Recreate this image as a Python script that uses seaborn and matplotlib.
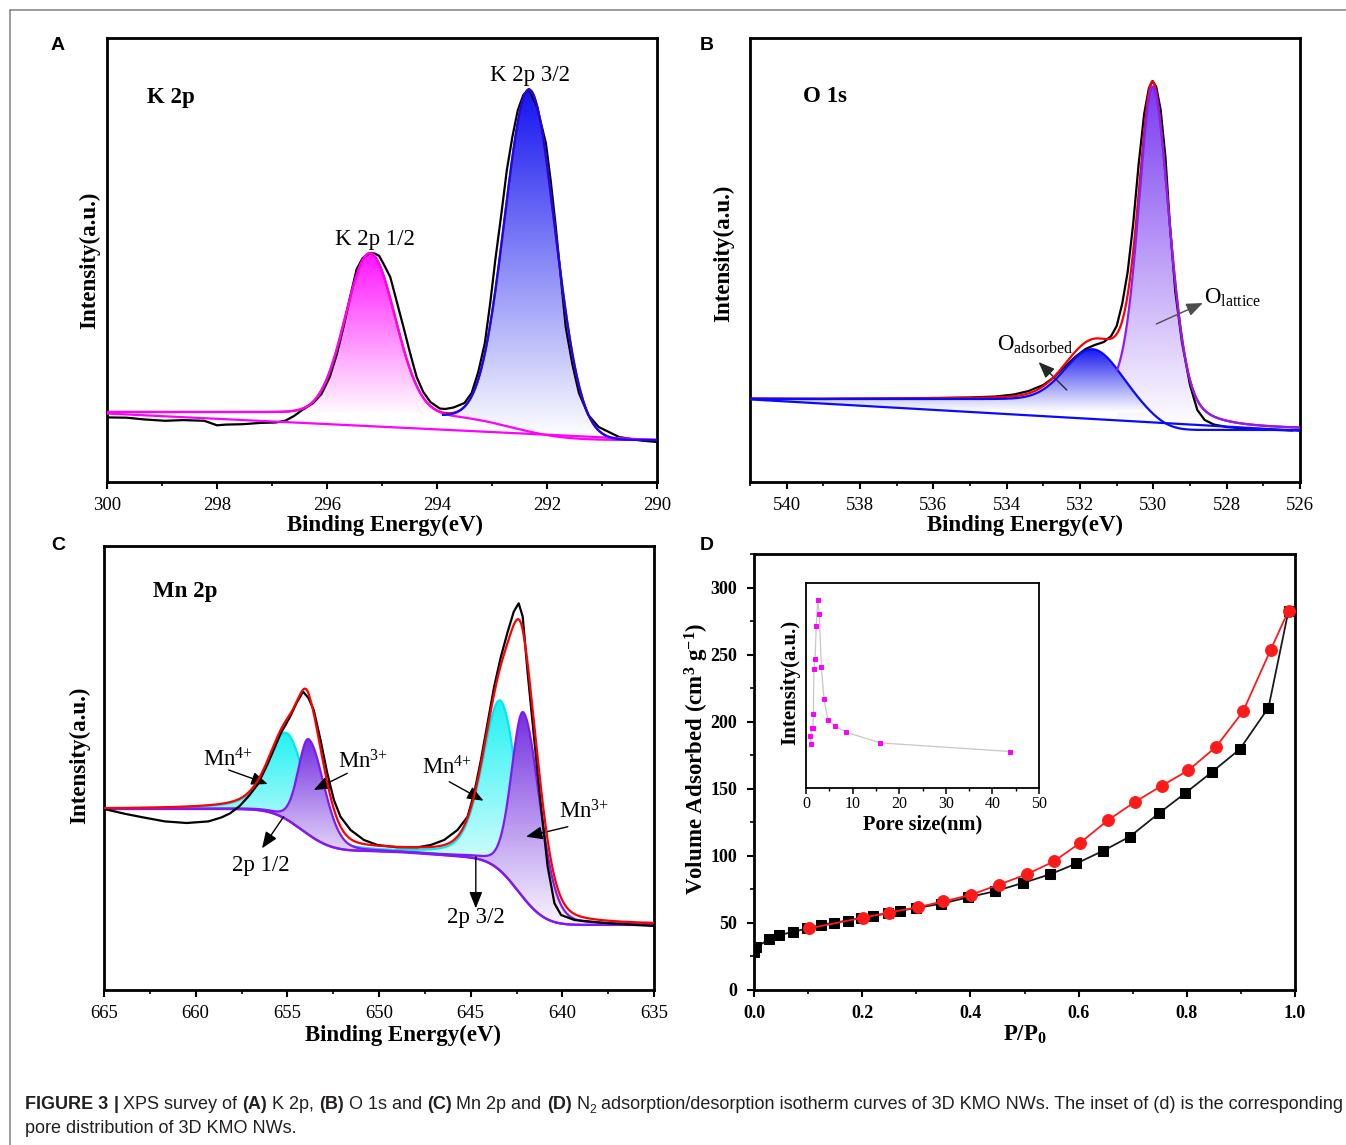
import math
import numpy as np
import matplotlib
matplotlib.use("Agg")
import matplotlib.pyplot as plt
import seaborn as sns
from matplotlib.patches import Polygon
from matplotlib.lines import Line2D
from matplotlib.colors import to_rgb
from matplotlib.ticker import MultipleLocator

W, H, DPI = 1346, 1145, 100

sns.set_style("ticks")
plt.rcParams["font.family"] = ["Liberation Serif", "DejaVu Serif"]
plt.rcParams["mathtext.fontset"] = "custom"
plt.rcParams["mathtext.rm"] = "Liberation Serif"
plt.rcParams["mathtext.it"] = "Liberation Serif:italic"
plt.rcParams["mathtext.bf"] = "Liberation Serif:bold"
plt.rcParams["axes.edgecolor"] = "black"
plt.rcParams["xtick.color"] = "black"
plt.rcParams["ytick.color"] = "black"
plt.rcParams["text.color"] = "black"
plt.rcParams["axes.labelcolor"] = "black"

# ---------------- (A) K 2p ----------------
# fitted components: centre (eV), height above background, FWHM on high/low BE side, Lorentz share
k_center = [295.22, 292.32]
k_height = [160, 342]
k_fwhm_hi = [1.04, 1.06]
k_fwhm_lo = [1.08, 1.10]
k_eta = [0.0, 0.0]
# background steps
k_bg_right = 42.0
k_step_at = [295.2, 292.65]
k_step_w = [0.5, 0.75]
k_step_h = [2.5, 25.5]
k_line_be = [300, 290]
k_line_i = [68.5, 42.0]
# measured spectrum
k_raw_be = [300.0, 299.64, 299.33, 298.94, 298.62, 298.23, 298.0, 297.84, 297.53, 297.21,
            296.93, 296.75, 296.6, 296.45, 296.25, 296.1, 295.95, 295.82, 295.70, 295.58,
            295.46, 295.35, 295.22, 295.13, 295.05, 294.98, 294.85, 294.73, 294.61, 294.49,
            294.37, 294.25, 294.12, 293.95, 293.85, 293.7, 293.5, 293.37, 293.25, 293.13,
            293.03, 292.94, 292.83, 292.73, 292.63, 292.53, 292.43, 292.33, 292.18, 292.02,
            291.93, 291.84, 291.75, 291.66, 291.54, 291.42, 291.25, 291.06, 290.69, 290.3, 290.0]
k_raw_i = [64.6, 64.3, 62.6, 61.2, 61.9, 61.2, 56.7, 57.4, 57.8, 59.1,
           59.5, 61.5, 66, 72, 79, 88, 105, 128, 155, 185,
           213, 224, 228.7, 228.5, 226, 219, 205, 180, 155, 129,
           105, 90, 80, 73.5, 73, 74.5, 79, 89, 110, 139,
           180, 222, 268, 312, 345, 372, 387, 393, 375, 338.7,
           300, 255, 205, 155, 118, 89, 67, 55, 45, 41.5, 40]

# ---------------- (B) O 1s ----------------
o_center = [531.63, 530.01]          # adsorbed, lattice
o_height = [53, 332]
o_fwhm_hi = [1.75, 0.95]
o_fwhm_lo = [1.75, 1.10]
o_eta = [0.0, 0.4]
o_bg_right = 52.0
o_step_at = [531.4, 530.0]
o_step_w = [0.7, 0.45]
o_step_h = [9, 22]
o_line_be = [541, 526]
o_line_i = [82.6, 51.2]
o_raw_be = [541.0, 540.0, 539.0, 538.0, 537.0, 536.0, 535.0, 534.3, 533.8, 533.4,
            533.0, 532.7, 532.4, 532.1, 531.85, 531.6, 531.35, 531.15, 531.0, 530.85,
            530.7, 530.55, 530.4, 530.25, 530.12, 530.02, 529.92, 529.8, 529.67, 529.55,
            529.4, 529.22, 529.0, 528.8, 528.6, 528.35, 528.0, 527.5, 527.0, 526.2]
o_raw_i = [83.5, 83.2, 83.0, 83.3, 83.5, 84.0, 84.5, 85.5, 87.5, 91,
           97, 105, 116, 126, 133, 137, 140, 146, 156, 178,
           210, 258, 318, 368, 394, 401, 395, 372, 325, 258,
           190, 140, 97, 72, 62, 57.5, 55, 53.5, 52.5, 51.5]

# ---------------- (C) Mn 2p ----------------
# order: Mn4+ 2p1/2, Mn3+ 2p1/2, Mn4+ 2p3/2, Mn3+ 2p3/2
mn_center = [655.01, 653.83, 643.35, 642.11]
mn_height = [86.6, 95.6, 170.4, 185.5]
mn_fwhm_hi = [2.4, 1.35, 2.3, 1.55]
mn_fwhm_lo = [2.4, 2.0, 2.3, 2.1]
mn_eta = [0.5, 0.2, 0.35, 0.2]
mn_bg_right = 65.0
mn_step_at = [654.2, 647.0, 642.4]
mn_step_w = [1.25, 2.0, 1.15]
mn_step_h = [42, 7, 67]
mn_raw_be = [665.0, 663.81, 662.86, 661.68, 660.49, 659.3, 658.59, 658.12, 657.6, 657.1,
             656.6, 656.1, 655.7, 655.38, 655.1, 654.83, 654.5, 654.14, 653.85, 653.56,
             653.19, 652.82, 652.46, 652.10, 651.55, 650.82, 650.09, 649.0, 647.9, 647.18,
             646.45, 645.72, 645.17, 644.81, 644.44, 644.08, 643.72, 643.35, 642.98, 642.65,
             642.38, 642.16, 641.89, 641.53, 641.16, 640.80, 640.43, 640.07, 639.34, 637.51, 635.0]
mn_raw_i = [181, 176, 172.6, 168.6, 167, 168.6, 172.6, 176.7, 184, 194,
            206, 225, 242, 256, 265, 274, 287, 298.3, 292, 280,
            250, 216.7, 190, 173.3, 160, 150, 145, 142.7, 142.7, 145,
            150, 160, 173.3, 196.7, 230, 266.7, 303.3, 333.3, 358.3, 378.3,
            386.7, 373.3, 316.7, 250, 183.3, 123.3, 86.7, 75, 70, 66.7, 64]

# ---------------- (D) N2 isotherm ----------------
ads_p = [0.0, 0.004, 0.028, 0.046, 0.073, 0.098, 0.124, 0.147, 0.173, 0.197, 0.220, 0.248, 0.270,
         0.299, 0.346, 0.396, 0.445, 0.498, 0.547, 0.596, 0.646, 0.695, 0.748, 0.797, 0.846,
         0.898, 0.951, 0.988]
ads_v = [28.2, 32.0, 37.8, 40.8, 43.4, 45.9, 48.4, 50.2, 51.7, 53.9, 55.2, 57.2, 59.2,
         61.0, 64.3, 69.1, 73.6, 79.9, 86.2, 94.3, 103.9, 114.4, 131.6, 146.7, 162.3,
         179.5, 210.5, 282.8]
des_p = [0.102, 0.201, 0.250, 0.303, 0.350, 0.402, 0.453, 0.504, 0.554, 0.602, 0.654, 0.705,
         0.754, 0.803, 0.854, 0.904, 0.955, 0.988]
des_v = [45.9, 53.9, 57.7, 61.8, 66.0, 71.1, 78.6, 86.2, 95.8, 109.4, 126.5, 140.4,
         152.3, 163.8, 181.2, 207.7, 253.6, 282.8]
pore_nm = [0.86, 1.0, 1.21, 1.5, 1.57, 1.71, 1.93, 2.21, 2.5, 2.86, 3.29, 3.86, 4.71, 6.14,
           8.64, 15.93, 43.86]
pore_int = [25.6, 21.6, 29.2, 29.2, 36.1, 58.2, 62.9, 78.9, 91.9, 84.8, 59.2, 43.4, 33.2, 30.3,
            27.2, 22.0, 17.8]

erf = np.vectorize(math.erf)


def peak(e, c, a, w_hi, w_lo, eta):
    w = np.where(e >= c, w_hi, w_lo)
    d = (e - c) / w
    return a * ((1 - eta) * np.exp(-4 * np.log(2) * d ** 2) + eta / (1 + 4 * d ** 2))


def steps(e, right, at, wid, hh):
    b = np.full(e.shape, float(right))
    for c, s, h in zip(at, wid, hh):
        b += h * 0.5 * (1 + erf((e - c) / (s * math.sqrt(2))))
    return b


def grad_fill(ax, x, top, base, color, y_white, z):
    base = np.minimum(base, top)
    verts = np.concatenate([np.column_stack([x, top]), np.column_stack([x[::-1], base[::-1]])])
    clip = Polygon(verts, closed=True, facecolor="none", edgecolor="none")
    ax.add_patch(clip)
    t = np.linspace(0, 1, 256)
    img = (1 - t)[:, None] * np.ones(3) + t[:, None] * np.array(to_rgb(color))
    im = ax.imshow(img[:, None, :], extent=[x.min(), x.max(), y_white, top.max()],
                   origin="lower", aspect="auto", interpolation="bilinear", zorder=z)
    im.set_clip_path(clip)


def line(ax, x, y, color, lw=1.6, z=3):
    sns.lineplot(x=x, y=y, color=color, linewidth=lw, ax=ax, sort=False,
                 estimator=None, zorder=z)


def xps_frame(ax, xlim, ticks, minor, xl_x, xl_y, yl_x, yl_y):
    ax.set_xlim(xlim)
    ax.set_ylim(0, 444)
    ax.set_yticks([])
    ax.set_xticks(ticks, [str(t) for t in ticks])
    ax.xaxis.set_minor_locator(MultipleLocator(minor))
    ax.tick_params(axis="x", which="major", direction="out", length=5, width=1.5,
                   pad=6, labelsize=13.5, top=False)
    ax.tick_params(axis="x", which="minor", direction="out", length=3, width=1.2, top=False)
    for s in ax.spines.values():
        s.set_linewidth(2.0)
    ax.set_xlabel("Binding Energy(eV)", fontsize=16.5, fontweight="bold")
    ax.xaxis.label.set_va("center")
    ax.xaxis.set_label_coords(xl_x, xl_y)
    ax.set_ylabel("Intensity(a.u.)", fontsize=16.5, fontweight="bold")
    ax.yaxis.label.set_va("center")
    ax.yaxis.set_label_coords(yl_x, yl_y)


def arrow(ax, tail, head, color="black"):
    ax.annotate("", xy=head, xytext=tail,
                arrowprops=dict(arrowstyle="-|>,head_length=0.55,head_width=0.22",
                                color=color, lw=1.0, shrinkA=0, shrinkB=0, mutation_scale=18))


fig = plt.figure(figsize=(W / DPI, H / DPI), dpi=DPI)
fig.patch.set_facecolor("white")

# ---------- panel A ----------
axA = fig.add_axes([107 / W, 1 - 482 / H, 550 / W, 444 / H])
e = np.linspace(290, 300, 1500)
bg = steps(e, k_bg_right, k_step_at, k_step_w, k_step_h)
gA = [peak(e, k_center[i], k_height[i], k_fwhm_hi[i], k_fwhm_lo[i], k_eta[i]) for i in range(2)]
blue_part = e <= 293.9
grad_fill(axA, e, bg + gA[0], bg, "#FF14FF", 66, 1)
grad_fill(axA, e[blue_part], (bg + gA[1])[blue_part], bg[blue_part], "#1414F0", 44, 1.1)
line(axA, k_raw_be, k_raw_i, "black", z=3)
line(axA, e, bg + gA[0] + gA[1], "#FF0000", z=3.2)
line(axA, k_line_be, k_line_i, "#FF00FF", z=4)
line(axA, e, bg + gA[0], "#FF00FF", z=4)
line(axA, e[blue_part], (bg + gA[1])[blue_part], "#0A0AFF", z=4)
axA.text(298.84, 385, "K 2p", fontsize=16.5, fontweight="bold", ha="center", va="center")
axA.text(292.31, 407, "K 2p 3/2", fontsize=16.5, ha="center", va="center")
axA.text(295.13, 242, "K 2p 1/2", fontsize=16.5, ha="center", va="center")
xps_frame(axA, (300, 290), list(range(300, 289, -2)), 1, 0.505, -43 / 444, -17 / 550, 0.5)

# ---------- panel B ----------
axB = fig.add_axes([750 / W, 1 - 482 / H, 550 / W, 444 / H])
e = np.linspace(526, 541, 1500)
bg = steps(e, o_bg_right, o_step_at, o_step_w, o_step_h)
gB = [peak(e, o_center[i], o_height[i], o_fwhm_hi[i], o_fwhm_lo[i], o_eta[i]) for i in range(2)]
base_line = np.interp(e, o_line_be[::-1], o_line_i[::-1])
lat_part = e <= 531.0
grad_fill(axB, e[lat_part], (bg + gB[1])[lat_part], base_line[lat_part], "#7A3CF0", 55, 1)
grad_fill(axB, e, bg + gB[0], base_line, "#1A1AF0", 70, 1.1)
line(axB, o_raw_be, o_raw_i, "black", z=3)
line(axB, e, bg + gB[0] + gB[1], "#FF0000", z=3.2)
line(axB, o_line_be, o_line_i, "#0A0AFF", z=4)
line(axB, e, bg + gB[0], "#0A0AFF", z=4)
line(axB, e[lat_part], (bg + gB[1])[lat_part], "#8A1CFF", z=4.1)
axB.text(538.96, 385, "O 1s", fontsize=16.5, fontweight="bold", ha="center", va="center")
axB.text(528.63, 184, r"O$_{\mathrm{lattice}}$", fontsize=16.5, ha="left", va="center")
axB.text(534.26, 137, r"O$_{\mathrm{adsorbed}}$", fontsize=16.5, ha="left", va="center")
arrow(axB, (529.92, 158), (528.65, 179), color="0.3")
arrow(axB, (532.36, 92), (533.13, 120), color="0.15")
xps_frame(axB, (541, 526), list(range(540, 525, -2)), 1, 0.5, -43 / 444, -26 / 550, 0.516)

# ---------- panel C ----------
axC = fig.add_axes([104 / W, 1 - 990 / H, 550 / W, 444 / H])
e = np.linspace(635, 665, 2000)
bg = steps(e, mn_bg_right, mn_step_at, mn_step_w, mn_step_h)
gC = [peak(e, mn_center[i], mn_height[i], mn_fwhm_hi[i], mn_fwhm_lo[i], mn_eta[i]) for i in range(4)]
grad_fill(axC, e, bg + gC[0], bg, "#22F2F2", 115, 1)
grad_fill(axC, e, bg + gC[2], bg, "#22F2F2", 85, 1)
line(axC, e, bg + gC[0], "#00E8F0", z=1.5)
line(axC, e, bg + gC[2], "#00E8F0", z=1.5)
grad_fill(axC, e, bg + gC[1], bg, "#7430E0", 110, 2)
grad_fill(axC, e, bg + gC[3], bg, "#7430E0", 55, 2)
line(axC, e, bg, "#8418F0", z=2.5)
line(axC, e, bg + gC[1], "#8418F0", z=2.5)
line(axC, e, bg + gC[3], "#8418F0", z=2.5)
line(axC, mn_raw_be, mn_raw_i, "black", z=3)
line(axC, e, bg + gC[0] + gC[1] + gC[2] + gC[3], "#FF0000", z=3.2)
axC.text(660.57, 398, "Mn 2p", fontsize=16.5, fontweight="bold", ha="center", va="center")
axC.text(658.22, 230, r"Mn$^{4{+}}$", fontsize=16.5, ha="center", va="center")
axC.text(650.88, 228, r"Mn$^{3{+}}$", fontsize=16.5, ha="center", va="center")
axC.text(656.47, 125, "2p 1/2", fontsize=16.5, ha="center", va="center")
axC.text(646.26, 222, r"Mn$^{4{+}}$", fontsize=16.5, ha="center", va="center")
axC.text(638.79, 178, r"Mn$^{3{+}}$", fontsize=16.5, ha="center", va="center")
axC.text(644.72, 72, "2p 3/2", fontsize=16.5, ha="center", va="center")
arrow(axC, (658.2, 220), (656.07, 206))
arrow(axC, (651.73, 216.7), (653.56, 200))
arrow(axC, (655.2, 173.3), (656.38, 141.7))
arrow(axC, (646.17, 208.3), (644.3, 189.3))
arrow(axC, (639.7, 163.3), (641.98, 153.3))
arrow(axC, (644.72, 133.3), (644.72, 81.7))
xps_frame(axC, (665, 635), list(range(665, 634, -5)), 2.5, 0.544, -45 / 444, -24 / 550, 0.528)

# ---------- panel D ----------
axD = fig.add_axes([754 / W, 1 - 990 / H, 541 / W, 436 / H])
sns.lineplot(x=ads_p, y=ads_v, ax=axD, color="#1a1a1a", linewidth=1.3, marker="s",
             markersize=7.5, markeredgecolor="black", markerfacecolor="black",
             sort=False, estimator=None, zorder=3)
sns.lineplot(x=des_p, y=des_v, ax=axD, color="#FF1A1A", linewidth=1.3, marker="o",
             markersize=8.5, markeredgecolor="#FF1A1A", markerfacecolor="#FF1A1A",
             sort=False, estimator=None, zorder=4)
axD.set_xlim(0, 1.0)
axD.set_ylim(0, 325)
xt = [0.0, 0.2, 0.4, 0.6, 0.8, 1.0]
yt = [0, 50, 100, 150, 200, 250, 300]
axD.set_xticks(xt, [f"{v:.1f}" for v in xt], fontweight="bold", fontsize=13)
axD.set_yticks(yt, [str(v) for v in yt], fontweight="bold", fontsize=13)
axD.xaxis.set_minor_locator(MultipleLocator(0.1))
axD.yaxis.set_minor_locator(MultipleLocator(25))
axD.tick_params(which="major", direction="out", length=5, width=1.5, top=False, right=False)
axD.tick_params(axis="x", which="major", pad=6)
axD.tick_params(axis="y", which="major", pad=7)
axD.tick_params(which="minor", direction="out", length=3, width=1.2, top=False, right=False)
for s in axD.spines.values():
    s.set_linewidth(2.0)
axD.set_xlabel(r"P/P$_{\mathbf{0}}$", fontsize=16.5, fontweight="bold")
axD.xaxis.label.set_va("center")
axD.xaxis.set_label_coords(0.5, -45 / 436)
axD.set_ylabel(r"Volume Adsorbed (cm$^{\mathbf{3}}$ g$^{\mathbf{-1}}$)", fontsize=16.5,
               fontweight="bold")
axD.yaxis.label.set_va("center")
axD.yaxis.set_label_coords(-57 / 541, 0.53)

# inset: pore size distribution
axI = fig.add_axes([806 / W, 1 - 788 / H, 233 / W, 205 / H])
sns.lineplot(x=pore_nm, y=pore_int, ax=axI, color="0.78", linewidth=0.9, marker="s",
             markersize=3.3, markeredgecolor="#FF00FF", markerfacecolor="#FF00FF",
             sort=False, estimator=None)
axI.set_xlim(0, 50)
axI.set_ylim(0, 100)
axI.set_yticks([])
axI.set_xticks([0, 10, 20, 30, 40, 50], ["0", "10", "20", "30", "40", "50"], fontsize=11.5)
axI.xaxis.set_minor_locator(MultipleLocator(5))
axI.tick_params(axis="x", which="major", direction="out", length=4, width=1.1, pad=1.5, top=False)
axI.tick_params(axis="x", which="minor", direction="out", length=2.5, width=1.0, top=False)
for s in axI.spines.values():
    s.set_linewidth(1.3)
axI.set_xlabel("Pore size(nm)", fontsize=14.7, fontweight="bold")
axI.xaxis.label.set_va("center")
axI.xaxis.set_label_coords(0.5, -0.178)
axI.set_ylabel("Intensity(a.u.)", fontsize=15, fontweight="bold")
axI.yaxis.label.set_va("center")
axI.yaxis.set_label_coords(-0.069, 0.517)

# panel letters
for lab, (px, py) in zip("ABCD", [(58, 45), (707, 45), (58, 545), (707, 545)]):
    fig.text(px / W, 1 - py / H, lab, fontsize=14, fontweight="bold",
             family=["Liberation Sans", "DejaVu Sans"], ha="center", va="center")

# page border
fig.add_artist(Line2D([10 / W, 1], [1 - 10 / H, 1 - 10 / H], transform=fig.transFigure,
                      color="0.5", linewidth=1.1))
fig.add_artist(Line2D([10 / W, 10 / W], [0, 1 - 10 / H], transform=fig.transFigure,
                      color="0.5", linewidth=1.1))

# caption
CAP_FAMILY = ["Liberation Sans", "DejaVu Sans"]
caption_runs = [("FIGURE 3", "bold", False, True), ("|", "bold", False, True),
                ("XPS survey of", "normal", False, True), ("(A)", "bold", False, True),
                ("K 2p,", "normal", False, True), ("(B)", "bold", False, True),
                ("O 1s and", "normal", False, True), ("(C)", "bold", False, True),
                ("Mn 2p and", "normal", False, True), ("(D)", "bold", False, True),
                ("N", "normal", False, False), ("2", "normal", True, True),
                ("adsorption/desorption isotherm curves of 3D KMO NWs. The inset of (d) is the corresponding",
                 "normal", False, False)]


def lay_caption(size):
    r = fig.canvas.get_renderer()
    p1 = fig.text(0, 0, "x x", fontsize=size, family=CAP_FAMILY)
    p2 = fig.text(0, 0, "xx", fontsize=size, family=CAP_FAMILY)
    space = p1.get_window_extent(r).width - p2.get_window_extent(r).width
    p1.remove()
    p2.remove()
    made = []
    x = 25
    for txt, wt, sub, sp in caption_runs:
        fs = size * 0.68 if sub else size
        yb = 1109 + (0.22 * size * DPI / 72 if sub else 0)
        t = fig.text(x / W, 1 - yb / H, txt, fontsize=fs, fontweight=wt, family=CAP_FAMILY,
                     ha="left", va="baseline", color="#231f20")
        made.append(t)
        x += t.get_window_extent(r).width + (space if sp else 0)
    return made, x - 25


made, width = lay_caption(12)
for t in made:
    t.remove()
cap_size = 12 * 1318 / width
made, width = lay_caption(cap_size)
fig.text(25 / W, 1 - 1133 / H, "pore distribution of 3D KMO NWs.", fontsize=cap_size,
         family=CAP_FAMILY, ha="left", va="baseline", color="#231f20")

fig.savefig("out.png", dpi=DPI)
